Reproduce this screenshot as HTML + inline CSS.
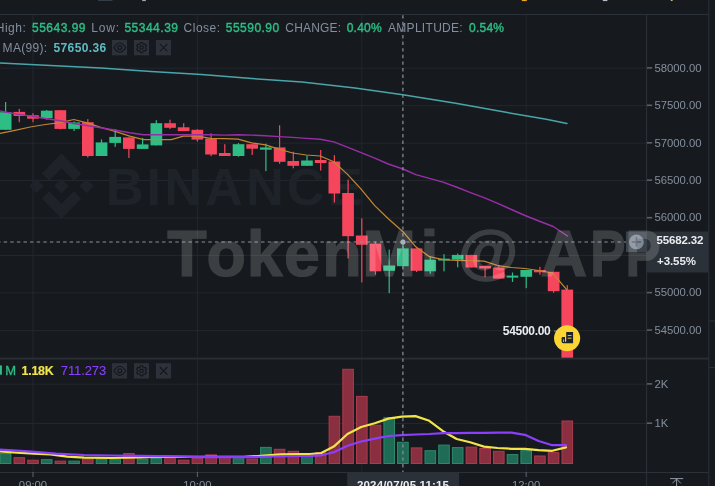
<!DOCTYPE html><html><head><meta charset="utf-8"><title>chart</title><style>html,body{margin:0;padding:0;background:#161a1e;overflow:hidden}svg{display:block}text{font-family:"Liberation Sans",sans-serif}</style></head><body>
<svg width="715" height="486" viewBox="0 0 715 486">
<rect width="715" height="486" fill="#161a1e"/>
<rect x="98" y="0" width="14.5" height="0.9" fill="#3a4049"/><rect x="142.2" y="0" width="3.6" height="1.1" fill="#a4aab4"/><rect x="521.8" y="0" width="5" height="1.1" fill="#eda61f"/><rect x="602.8" y="0" width="4.6" height="1.1" fill="#b4bac4"/><rect x="670.8" y="0" width="1.8" height="1" fill="#d8c070"/>
<rect x="0" y="67.7" width="647" height="1" fill="#22272e"/>
<rect x="0" y="105.1" width="647" height="1" fill="#22272e"/>
<rect x="0" y="142.6" width="647" height="1" fill="#22272e"/>
<rect x="0" y="180.0" width="647" height="1" fill="#22272e"/>
<rect x="0" y="217.5" width="647" height="1" fill="#22272e"/>
<rect x="0" y="255.0" width="647" height="1" fill="#22272e"/>
<rect x="0" y="292.4" width="647" height="1" fill="#22272e"/>
<rect x="0" y="330.1" width="647" height="1" fill="#22272e"/>
<rect x="0" y="383.7" width="647" height="1" fill="#22272e"/>
<rect x="0" y="423.0" width="647" height="1" fill="#22272e"/>
<rect x="32.5" y="14" width="1" height="458" fill="#22272e"/>
<rect x="196.9" y="14" width="1" height="458" fill="#22272e"/>
<rect x="361.3" y="14" width="1" height="458" fill="#22272e"/>
<rect x="525.7" y="14" width="1" height="458" fill="#22272e"/>
<g fill="#1e2329" transform="translate(61.5,186) scale(0.5156)"><path d="M-24.3,-10.3 L0,-34.6 L24.3,-10.3 L38.4,-24.4 L0,-62.8 L-38.4,-24.4 Z"/><path d="M-62.8,0 L-48.7,-14.1 L-34.6,0 L-48.7,14.1 Z"/><path d="M-24.3,10.3 L0,34.6 L24.3,10.3 L38.4,24.4 L0,62.8 L-38.4,24.4 Z"/><path d="M34.6,0 L48.7,-14.1 L62.8,0 L48.7,14.1 Z"/><path d="M14.3,0 L0,-14.3 L-10.6,-3.7 L-11.8,-2.5 L-14.3,0 L0,14.3 Z"/></g>
<text x="105.7" y="204.9" font-size="52.5" font-weight="bold" fill="#1e2329" textLength="257" lengthAdjust="spacing">BINANCE</text>
<rect x="0.3" y="453.5" width="10.6" height="10.0" fill="#1f6b56" stroke="#2a8a69" stroke-width="1"/>
<rect x="14.0" y="457.7" width="10.6" height="5.8" fill="#8a2f40" stroke="#ac3b4e" stroke-width="1"/>
<rect x="27.7" y="460.2" width="10.6" height="3.3" fill="#8a2f40" stroke="#ac3b4e" stroke-width="1"/>
<rect x="41.4" y="459.7" width="10.6" height="3.8" fill="#1f6b56" stroke="#2a8a69" stroke-width="1"/>
<rect x="55.1" y="461.1" width="10.6" height="2.4" fill="#8a2f40" stroke="#ac3b4e" stroke-width="1"/>
<rect x="68.8" y="461.1" width="10.6" height="2.4" fill="#1f6b56" stroke="#2a8a69" stroke-width="1"/>
<rect x="82.5" y="459.1" width="10.6" height="4.4" fill="#8a2f40" stroke="#ac3b4e" stroke-width="1"/>
<rect x="96.2" y="459.1" width="10.6" height="4.4" fill="#1f6b56" stroke="#2a8a69" stroke-width="1"/>
<rect x="109.9" y="459.7" width="10.6" height="3.8" fill="#1f6b56" stroke="#2a8a69" stroke-width="1"/>
<rect x="123.6" y="453.5" width="10.6" height="10.0" fill="#8a2f40" stroke="#ac3b4e" stroke-width="1"/>
<rect x="137.3" y="459.1" width="10.6" height="4.4" fill="#1f6b56" stroke="#2a8a69" stroke-width="1"/>
<rect x="151.0" y="458.5" width="10.6" height="5.0" fill="#1f6b56" stroke="#2a8a69" stroke-width="1"/>
<rect x="164.7" y="457.7" width="10.6" height="5.8" fill="#8a2f40" stroke="#ac3b4e" stroke-width="1"/>
<rect x="178.4" y="460.2" width="10.6" height="3.3" fill="#8a2f40" stroke="#ac3b4e" stroke-width="1"/>
<rect x="192.1" y="458.3" width="10.6" height="5.2" fill="#8a2f40" stroke="#ac3b4e" stroke-width="1"/>
<rect x="205.8" y="454.9" width="10.6" height="8.6" fill="#8a2f40" stroke="#ac3b4e" stroke-width="1"/>
<rect x="219.5" y="456.9" width="10.6" height="6.6" fill="#8a2f40" stroke="#ac3b4e" stroke-width="1"/>
<rect x="233.2" y="458.8" width="10.6" height="4.7" fill="#1f6b56" stroke="#2a8a69" stroke-width="1"/>
<rect x="246.9" y="459.1" width="10.6" height="4.4" fill="#8a2f40" stroke="#ac3b4e" stroke-width="1"/>
<rect x="260.6" y="447.4" width="10.6" height="16.1" fill="#1f6b56" stroke="#2a8a69" stroke-width="1"/>
<rect x="274.3" y="449.3" width="10.6" height="14.2" fill="#8a2f40" stroke="#ac3b4e" stroke-width="1"/>
<rect x="288.0" y="451.3" width="10.6" height="12.2" fill="#8a2f40" stroke="#ac3b4e" stroke-width="1"/>
<rect x="301.7" y="456.3" width="10.6" height="7.2" fill="#1f6b56" stroke="#2a8a69" stroke-width="1"/>
<rect x="315.4" y="452.7" width="10.6" height="10.8" fill="#8a2f40" stroke="#ac3b4e" stroke-width="1"/>
<rect x="329.1" y="416.3" width="10.6" height="47.2" fill="#8a2f40" stroke="#ac3b4e" stroke-width="1"/>
<rect x="342.8" y="369.3" width="10.6" height="94.2" fill="#8a2f40" stroke="#ac3b4e" stroke-width="1"/>
<rect x="356.5" y="396.4" width="10.6" height="67.1" fill="#8a2f40" stroke="#ac3b4e" stroke-width="1"/>
<rect x="370.2" y="425.2" width="10.6" height="38.3" fill="#8a2f40" stroke="#ac3b4e" stroke-width="1"/>
<rect x="383.9" y="417.7" width="10.6" height="45.8" fill="#1f6b56" stroke="#2a8a69" stroke-width="1"/>
<rect x="397.6" y="442.3" width="10.6" height="21.2" fill="#1f6b56" stroke="#2a8a69" stroke-width="1"/>
<rect x="411.3" y="447.9" width="10.6" height="15.6" fill="#8a2f40" stroke="#ac3b4e" stroke-width="1"/>
<rect x="425.0" y="450.7" width="10.6" height="12.8" fill="#1f6b56" stroke="#2a8a69" stroke-width="1"/>
<rect x="438.7" y="445.1" width="10.6" height="18.4" fill="#1f6b56" stroke="#2a8a69" stroke-width="1"/>
<rect x="452.4" y="447.6" width="10.6" height="15.9" fill="#1f6b56" stroke="#2a8a69" stroke-width="1"/>
<rect x="466.1" y="447.1" width="10.6" height="16.4" fill="#8a2f40" stroke="#ac3b4e" stroke-width="1"/>
<rect x="479.8" y="448.5" width="10.6" height="15.0" fill="#8a2f40" stroke="#ac3b4e" stroke-width="1"/>
<rect x="493.5" y="451.3" width="10.6" height="12.2" fill="#8a2f40" stroke="#ac3b4e" stroke-width="1"/>
<rect x="507.2" y="454.6" width="10.6" height="8.9" fill="#1f6b56" stroke="#2a8a69" stroke-width="1"/>
<rect x="520.9" y="450.7" width="10.6" height="12.8" fill="#1f6b56" stroke="#2a8a69" stroke-width="1"/>
<rect x="534.6" y="456.0" width="10.6" height="7.5" fill="#8a2f40" stroke="#ac3b4e" stroke-width="1"/>
<rect x="548.3" y="452.7" width="10.6" height="10.8" fill="#8a2f40" stroke="#ac3b4e" stroke-width="1"/>
<rect x="562.0" y="421.0" width="10.6" height="42.5" fill="#8a2f40" stroke="#ac3b4e" stroke-width="1"/>
<polyline points="-3.0,451.0 0.0,451.3 16.8,452.7 33.6,453.6 50.4,454.4 67.2,456.7 84.0,457.6 112.0,458.0 140.0,457.3 160.0,456.6 176.8,456.9 197.8,456.9 244.0,456.9 260.8,455.8 280.4,454.3 300.0,454.1 310.0,454.2 321.2,453.0 333.8,446.6 347.5,434.0 361.2,427.0 374.7,423.3 388.4,418.6 401.8,416.6 415.5,416.1 429.3,420.8 443.0,431.2 456.7,439.0 470.1,442.2 484.0,446.6 497.7,448.0 511.4,448.8 524.9,448.8 538.6,450.2 552.3,450.8 566.0,447.4" fill="none" stroke="#f2e54a" stroke-width="2.2" stroke-linejoin="round" stroke-linecap="round" />
<polyline points="-3.0,449.5 0.0,449.7 28.0,451.3 56.0,453.6 84.0,455.0 112.0,455.5 140.0,455.8 179.0,456.4 197.8,457.2 252.0,457.2 272.0,456.5 300.0,456.0 310.0,455.8 321.0,455.3 333.8,452.2 347.5,445.7 361.2,441.5 374.7,438.7 388.4,436.0 401.8,435.1 415.5,434.5 429.3,434.0 443.0,433.1 456.7,433.1 470.1,432.9 484.0,432.9 497.7,432.6 511.4,432.6 524.9,434.8 538.6,441.0 552.3,445.2 566.0,445.2" fill="none" stroke="#8a3ffc" stroke-width="2.2" stroke-linejoin="round" stroke-linecap="round" />
<rect x="5.0" y="102.0" width="1.2" height="27.8" fill="#2ebd85"/>
<rect x="-0.2" y="112.2" width="11.7" height="17.6" fill="#2ebd85"/>
<rect x="18.7" y="108.9" width="1.2" height="13.3" fill="#f6465d"/>
<rect x="13.5" y="111.9" width="11.7" height="4.1" fill="#f6465d"/>
<rect x="32.4" y="113.2" width="1.2" height="9.0" fill="#f6465d"/>
<rect x="27.1" y="115.2" width="11.7" height="3.5" fill="#f6465d"/>
<rect x="46.1" y="110.0" width="1.2" height="9.7" fill="#2ebd85"/>
<rect x="40.9" y="110.7" width="11.7" height="7.5" fill="#2ebd85"/>
<rect x="59.8" y="110.2" width="1.2" height="19.1" fill="#f6465d"/>
<rect x="54.5" y="110.2" width="11.7" height="18.7" fill="#f6465d"/>
<rect x="73.5" y="121.5" width="1.2" height="9.5" fill="#2ebd85"/>
<rect x="68.2" y="122.5" width="11.7" height="6.4" fill="#2ebd85"/>
<rect x="87.2" y="119.1" width="1.2" height="38.4" fill="#f6465d"/>
<rect x="82.0" y="122.2" width="11.7" height="33.8" fill="#f6465d"/>
<rect x="100.9" y="139.4" width="1.2" height="16.6" fill="#2ebd85"/>
<rect x="95.7" y="142.4" width="11.7" height="13.6" fill="#2ebd85"/>
<rect x="114.6" y="129.0" width="1.2" height="17.9" fill="#2ebd85"/>
<rect x="109.3" y="136.9" width="11.7" height="6.0" fill="#2ebd85"/>
<rect x="128.3" y="137.4" width="1.2" height="20.6" fill="#f6465d"/>
<rect x="123.0" y="137.4" width="11.7" height="11.5" fill="#f6465d"/>
<rect x="142.0" y="137.9" width="1.2" height="11.0" fill="#2ebd85"/>
<rect x="136.8" y="144.4" width="11.7" height="4.5" fill="#2ebd85"/>
<rect x="155.7" y="120.2" width="1.2" height="25.2" fill="#2ebd85"/>
<rect x="150.5" y="123.2" width="11.7" height="22.2" fill="#2ebd85"/>
<rect x="169.4" y="119.7" width="1.2" height="9.3" fill="#f6465d"/>
<rect x="164.2" y="123.2" width="11.7" height="4.6" fill="#f6465d"/>
<rect x="183.1" y="123.2" width="1.2" height="7.9" fill="#f6465d"/>
<rect x="177.8" y="127.3" width="11.7" height="3.8" fill="#f6465d"/>
<rect x="196.8" y="129.3" width="1.2" height="12.3" fill="#f6465d"/>
<rect x="191.5" y="129.8" width="11.7" height="9.8" fill="#f6465d"/>
<rect x="210.5" y="133.3" width="1.2" height="22.9" fill="#f6465d"/>
<rect x="205.2" y="138.6" width="11.7" height="15.9" fill="#f6465d"/>
<rect x="224.2" y="144.2" width="1.2" height="11.8" fill="#f6465d"/>
<rect x="218.9" y="153.0" width="11.7" height="3.0" fill="#f6465d"/>
<rect x="237.9" y="143.0" width="1.2" height="13.7" fill="#2ebd85"/>
<rect x="232.7" y="144.2" width="11.7" height="11.8" fill="#2ebd85"/>
<rect x="251.6" y="144.2" width="1.2" height="10.8" fill="#f6465d"/>
<rect x="246.3" y="144.2" width="11.7" height="4.5" fill="#f6465d"/>
<rect x="265.3" y="143.7" width="1.2" height="27.4" fill="#2ebd85"/>
<rect x="260.0" y="147.4" width="11.7" height="2.3" fill="#2ebd85"/>
<rect x="279.0" y="125.3" width="1.2" height="38.5" fill="#f6465d"/>
<rect x="273.8" y="147.4" width="11.7" height="14.4" fill="#f6465d"/>
<rect x="292.7" y="151.7" width="1.2" height="16.6" fill="#f6465d"/>
<rect x="287.4" y="161.0" width="11.7" height="4.8" fill="#f6465d"/>
<rect x="306.4" y="155.5" width="1.2" height="10.3" fill="#2ebd85"/>
<rect x="301.1" y="160.5" width="11.7" height="5.3" fill="#2ebd85"/>
<rect x="320.1" y="150.0" width="1.2" height="20.6" fill="#f6465d"/>
<rect x="314.8" y="160.0" width="11.7" height="3.0" fill="#f6465d"/>
<rect x="333.8" y="155.2" width="1.2" height="47.3" fill="#f6465d"/>
<rect x="328.5" y="161.5" width="11.7" height="32.0" fill="#f6465d"/>
<rect x="347.5" y="179.6" width="1.2" height="78.8" fill="#f6465d"/>
<rect x="342.2" y="193.0" width="11.7" height="43.2" fill="#f6465d"/>
<rect x="361.2" y="218.3" width="1.2" height="64.1" fill="#f6465d"/>
<rect x="355.9" y="235.5" width="11.7" height="9.3" fill="#f6465d"/>
<rect x="374.9" y="241.6" width="1.2" height="33.2" fill="#f6465d"/>
<rect x="369.6" y="243.6" width="11.7" height="27.7" fill="#f6465d"/>
<rect x="388.6" y="249.6" width="1.2" height="43.6" fill="#2ebd85"/>
<rect x="383.3" y="265.5" width="11.7" height="5.3" fill="#2ebd85"/>
<rect x="402.3" y="243.3" width="1.2" height="22.9" fill="#2ebd85"/>
<rect x="397.0" y="248.4" width="11.7" height="17.8" fill="#2ebd85"/>
<rect x="416.0" y="248.4" width="1.2" height="23.6" fill="#f6465d"/>
<rect x="410.7" y="248.4" width="11.7" height="22.4" fill="#f6465d"/>
<rect x="429.7" y="256.7" width="1.2" height="17.1" fill="#2ebd85"/>
<rect x="424.4" y="259.7" width="11.7" height="11.6" fill="#2ebd85"/>
<rect x="443.4" y="254.2" width="1.2" height="17.1" fill="#2ebd85"/>
<rect x="438.1" y="258.7" width="11.7" height="1.8" fill="#2ebd85"/>
<rect x="457.1" y="253.6" width="1.2" height="13.7" fill="#2ebd85"/>
<rect x="451.8" y="254.9" width="11.7" height="4.8" fill="#2ebd85"/>
<rect x="470.8" y="254.9" width="1.2" height="12.6" fill="#f6465d"/>
<rect x="465.5" y="254.9" width="11.7" height="12.6" fill="#f6465d"/>
<rect x="484.5" y="266.0" width="1.2" height="11.3" fill="#f6465d"/>
<rect x="479.2" y="266.0" width="11.7" height="2.5" fill="#f6465d"/>
<rect x="498.2" y="265.5" width="1.2" height="13.1" fill="#f6465d"/>
<rect x="492.9" y="267.5" width="11.7" height="11.1" fill="#f6465d"/>
<rect x="511.9" y="272.5" width="1.2" height="9.4" fill="#2ebd85"/>
<rect x="506.6" y="275.6" width="11.7" height="2.0" fill="#2ebd85"/>
<rect x="525.6" y="270.0" width="1.2" height="18.2" fill="#2ebd85"/>
<rect x="520.4" y="270.0" width="11.7" height="6.8" fill="#2ebd85"/>
<rect x="539.3" y="266.8" width="1.2" height="8.0" fill="#f6465d"/>
<rect x="534.0" y="270.0" width="11.7" height="2.3" fill="#f6465d"/>
<rect x="553.0" y="271.8" width="1.2" height="20.9" fill="#f6465d"/>
<rect x="547.8" y="271.8" width="11.7" height="19.4" fill="#f6465d"/>
<rect x="566.7" y="285.1" width="1.2" height="72.9" fill="#f6465d"/>
<rect x="561.4" y="289.6" width="11.7" height="68.4" fill="#f6465d"/>
<polyline points="0.0,62.9 50.4,65.5 100.7,68.0 151.0,71.5 201.4,74.5 251.8,78.5 302.0,82.0 355.0,88.1 402.8,94.7 455.7,103.2 506.0,112.3 546.3,119.3 567.0,123.4" fill="none" stroke="#4aa5ab" stroke-width="1.5" stroke-linejoin="round" stroke-linecap="round" />
<polyline points="0.0,133.3 15.0,130.3 30.2,127.0 45.3,124.5 60.4,122.7 73.8,119.5 88.0,123.2 100.8,127.3 115.9,131.6 129.7,136.1 143.6,139.6 157.4,139.6 171.3,139.6 183.4,136.1 197.0,136.1 210.6,138.4 224.2,138.6 238.0,139.1 251.7,142.9 265.3,144.9 279.0,149.2 292.7,153.0 306.3,155.0 320.2,156.0 333.8,161.8 347.3,174.1 361.1,189.2 374.7,205.6 388.3,218.8 403.0,231.7 415.8,246.8 429.4,256.7 443.0,259.7 456.9,260.5 470.5,260.7 484.0,261.2 497.8,265.5 511.4,267.5 525.0,268.5 538.8,270.5 552.4,273.0 566.5,289.4" fill="none" stroke="#c4862f" stroke-width="1.25" stroke-linejoin="round" stroke-linecap="round" />
<polyline points="0.0,110.9 15.0,113.9 30.2,115.9 45.3,118.5 60.4,120.7 73.8,123.5 88.0,125.8 100.8,127.8 115.9,130.3 129.7,132.8 143.6,134.8 157.4,134.8 171.3,134.6 183.4,134.8 197.0,134.8 210.6,134.8 224.2,135.1 238.0,134.8 251.7,135.1 265.3,135.8 279.0,136.6 292.7,137.4 306.3,138.4 320.2,139.3 333.8,141.9 347.3,147.1 361.1,152.7 374.7,158.2 388.3,164.0 403.0,169.0 415.8,174.6 429.4,178.4 443.0,182.1 456.9,187.3 470.5,192.6 484.0,197.6 497.7,203.3 511.4,209.5 525.0,215.5 538.8,221.0 553.2,226.5 567.5,236.0" fill="none" stroke="#982ea8" stroke-width="1.45" stroke-linejoin="round" stroke-linecap="round" />
<rect x="0" y="14" width="709" height="1" fill="#2b3139"/>
<rect x="0" y="357.6" width="709" height="1.9" fill="#292e35"/>
<rect x="0" y="472" width="709" height="1" fill="#2b3139"/>
<rect x="646.1" y="14" width="1" height="472" fill="#2b3139"/>
<rect x="708.3" y="0" width="1" height="486" fill="#2b3139"/>
<rect x="709" y="320.5" width="6" height="1" fill="#2b3139"/><rect x="709" y="367.1" width="6" height="1" fill="#2b3139"/>
<line x1="-2.9" y1="242" x2="626" y2="242" stroke="#8a929e" stroke-width="1.2" stroke-dasharray="3.4,3.2"/>
<line x1="402.9" y1="15.2" x2="402.9" y2="472" stroke="#8a929e" stroke-width="1.2" stroke-dasharray="3.4,3.2"/>
<circle cx="403" cy="242" r="2.6" fill="#9aa2ad"/>
<rect x="647" y="67.1" width="5.2" height="1.6" fill="#59606b"/>
<text x="654.5" y="71.6" font-size="11.3" fill="#848e9c" textLength="47" lengthAdjust="spacing">58000.00</text>
<rect x="647" y="104.5" width="5.2" height="1.6" fill="#59606b"/>
<text x="654.5" y="109.0" font-size="11.3" fill="#848e9c" textLength="47" lengthAdjust="spacing">57500.00</text>
<rect x="647" y="142.0" width="5.2" height="1.6" fill="#59606b"/>
<text x="654.5" y="146.5" font-size="11.3" fill="#848e9c" textLength="47" lengthAdjust="spacing">57000.00</text>
<rect x="647" y="179.4" width="5.2" height="1.6" fill="#59606b"/>
<text x="654.5" y="183.9" font-size="11.3" fill="#848e9c" textLength="47" lengthAdjust="spacing">56500.00</text>
<rect x="647" y="216.9" width="5.2" height="1.6" fill="#59606b"/>
<text x="654.5" y="221.4" font-size="11.3" fill="#848e9c" textLength="47" lengthAdjust="spacing">56000.00</text>
<rect x="647" y="291.8" width="5.2" height="1.6" fill="#59606b"/>
<text x="654.5" y="296.3" font-size="11.3" fill="#848e9c" textLength="47" lengthAdjust="spacing">55000.00</text>
<rect x="647" y="329.3" width="5.2" height="1.6" fill="#59606b"/>
<text x="654.5" y="333.8" font-size="11.3" fill="#848e9c" textLength="47" lengthAdjust="spacing">54500.00</text>
<rect x="647" y="383.1" width="5.2" height="1.6" fill="#59606b"/>
<text x="654.5" y="387.6" font-size="11.3" fill="#848e9c">2K</text>
<rect x="647" y="422.4" width="5.2" height="1.6" fill="#59606b"/>
<text x="654.5" y="426.9" font-size="11.3" fill="#848e9c">1K</text>
<rect x="32.5" y="472" width="1" height="5" fill="#5e6673"/>
<text x="33.0" y="489" font-size="11.3" fill="#848e9c" text-anchor="middle">09:00</text>
<rect x="196.9" y="472" width="1" height="5" fill="#5e6673"/>
<text x="197.4" y="489" font-size="11.3" fill="#848e9c" text-anchor="middle">10:00</text>
<rect x="525.7" y="472" width="1" height="5" fill="#5e6673"/>
<text x="526.2" y="489" font-size="11.3" fill="#848e9c" text-anchor="middle">12:00</text>
<rect x="347.2" y="472.4" width="112" height="14" fill="#2b3139"/>
<text x="403" y="489" font-size="11.5" font-weight="bold" fill="#eaecef" text-anchor="middle" textLength="92" lengthAdjust="spacing">2024/07/05 11:15</text>
<rect x="647" y="231.5" width="61.3" height="41" fill="#2b3139"/>
<text x="656.5" y="244.3" font-size="11.5" font-weight="bold" fill="#eaecef" textLength="47" lengthAdjust="spacing">55682.32</text>
<text x="657" y="264.5" font-size="11.5" font-weight="bold" fill="#eaecef" textLength="39" lengthAdjust="spacing">+3.55%</text>
<rect x="626" y="231.5" width="21" height="20.5" fill="#3b424c"/>
<circle cx="636.4" cy="241.9" r="7.4" fill="#7f8998"/><path d="M631.7,241.9h9.4M636.4,237.2v9.4" stroke="#535b67" stroke-width="1.5" fill="none"/>
<path d="M670,478.6h13.2M676.6,487v-8M672.3,483.4l4.3,-4.4l4.3,4.4" stroke="#9299a5" stroke-width="1" fill="none"/>
<text x="-4.3" y="31.5" font-size="12" fill="#848e9c" textLength="30.2" lengthAdjust="spacing">High:</text>
<text x="32" y="31.5" font-size="12" stroke="#2ebd85" stroke-width="0.4" fill="#2ebd85" textLength="53.5" lengthAdjust="spacing">55643.99</text>
<text x="91.3" y="31.5" font-size="12" fill="#848e9c" textLength="27.7" lengthAdjust="spacing">Low:</text>
<text x="124.4" y="31.5" font-size="12" stroke="#2ebd85" stroke-width="0.4" fill="#2ebd85" textLength="53.6" lengthAdjust="spacing">55344.39</text>
<text x="183.6" y="31.5" font-size="12" fill="#848e9c" textLength="36.4" lengthAdjust="spacing">Close:</text>
<text x="225.8" y="31.5" font-size="12" stroke="#2ebd85" stroke-width="0.4" fill="#2ebd85" textLength="53.4" lengthAdjust="spacing">55590.90</text>
<text x="285.3" y="31.5" font-size="12" fill="#848e9c" textLength="55.7" lengthAdjust="spacing">CHANGE:</text>
<text x="346.7" y="31.5" font-size="12" stroke="#2ebd85" stroke-width="0.4" fill="#2ebd85" textLength="35" lengthAdjust="spacing">0.40%</text>
<text x="388" y="31.5" font-size="12" fill="#848e9c" textLength="74.7" lengthAdjust="spacing">AMPLITUDE:</text>
<text x="469" y="31.5" font-size="12" stroke="#2ebd85" stroke-width="0.4" fill="#2ebd85" textLength="35" lengthAdjust="spacing">0.54%</text>
<text x="2.6" y="52" font-size="12" fill="#848e9c" textLength="44.5" lengthAdjust="spacing">MA(99):</text>
<text x="53.5" y="52" font-size="12" font-weight="bold" fill="#60bbc2" textLength="52.7" lengthAdjust="spacing">57650.36</text>
<rect x="0" y="365.4" width="1.9" height="9.3" fill="#2ebd85"/>
<text x="5.3" y="374.8" font-size="13" stroke="#2ebd85" stroke-width="0.3" fill="#2ebd85" textLength="9.6" lengthAdjust="spacing">M</text>
<text x="21.6" y="374.8" font-size="12.4" font-weight="bold" stroke="#f2e54a" stroke-width="0.15" fill="#f2e54a" textLength="32" lengthAdjust="spacing">1.18K</text>
<text x="60.8" y="374.8" font-size="13" stroke="#8a3ffc" stroke-width="0.1" fill="#8a3ffc" textLength="45.4" lengthAdjust="spacing">711.273</text>
<rect x="112" y="40" width="15" height="15.3" fill="#2d323a"/>
<rect x="134" y="40" width="15" height="15.3" fill="#2d323a"/>
<rect x="156" y="40" width="15" height="15.3" fill="#2d323a"/>
<path d="M113.89999999999999,47.6 Q116.89999999999999,43.0 119.8,43.0 Q122.7,43.0 125.7,47.6 Q122.7,52.2 119.8,52.2 Q116.89999999999999,52.2 113.89999999999999,47.6Z" fill="none" stroke="#14171b" stroke-width="1.15" stroke-linejoin="round"/><circle cx="119.8" cy="47.6" r="2" fill="none" stroke="#14171b" stroke-width="1.15"/>
<path d="M140.30,43.82 L140.57,42.50 L142.63,42.50 L142.90,43.82 L144.23,44.59 L145.50,44.16 L146.53,45.95 L145.53,46.83 L145.53,48.37 L146.53,49.25 L145.50,51.04 L144.23,50.61 L142.90,51.38 L142.63,52.70 L140.57,52.70 L140.30,51.38 L138.97,50.61 L137.70,51.04 L136.67,49.25 L137.67,48.37 L137.67,46.83 L136.67,45.95 L137.70,44.16 L138.97,44.59Z" fill="none" stroke="#14171b" stroke-width="1.15" stroke-linejoin="round"/><circle cx="141.6" cy="47.6" r="1.7" fill="none" stroke="#14171b" stroke-width="1.15"/>
<path d="M159.79999999999998,43.800000000000004L167.4,51.4M167.4,43.800000000000004L159.79999999999998,51.4" stroke="#14171b" stroke-width="1.15" fill="none"/>
<rect x="112" y="363.2" width="15" height="15.3" fill="#2d323a"/>
<rect x="134" y="363.2" width="15" height="15.3" fill="#2d323a"/>
<rect x="156" y="363.2" width="15" height="15.3" fill="#2d323a"/>
<path d="M113.89999999999999,370.8 Q116.89999999999999,366.2 119.8,366.2 Q122.7,366.2 125.7,370.8 Q122.7,375.40000000000003 119.8,375.40000000000003 Q116.89999999999999,375.40000000000003 113.89999999999999,370.8Z" fill="none" stroke="#14171b" stroke-width="1.15" stroke-linejoin="round"/><circle cx="119.8" cy="370.8" r="2" fill="none" stroke="#14171b" stroke-width="1.15"/>
<path d="M140.30,367.02 L140.57,365.70 L142.63,365.70 L142.90,367.02 L144.23,367.79 L145.50,367.36 L146.53,369.15 L145.53,370.03 L145.53,371.57 L146.53,372.45 L145.50,374.24 L144.23,373.81 L142.90,374.58 L142.63,375.90 L140.57,375.90 L140.30,374.58 L138.97,373.81 L137.70,374.24 L136.67,372.45 L137.67,371.57 L137.67,370.03 L136.67,369.15 L137.70,367.36 L138.97,367.79Z" fill="none" stroke="#14171b" stroke-width="1.15" stroke-linejoin="round"/><circle cx="141.6" cy="370.8" r="1.7" fill="none" stroke="#14171b" stroke-width="1.15"/>
<path d="M159.79999999999998,367.0L167.4,374.6M167.4,367.0L159.79999999999998,374.6" stroke="#14171b" stroke-width="1.15" fill="none"/>
<text x="502.8" y="335.3" font-size="12" font-weight="bold" fill="#eaecef" textLength="48" lengthAdjust="spacing">54500.00</text>
<rect x="554" y="330.6" width="2.6" height="1" fill="#848e9c"/>
<circle cx="567.1" cy="338.2" r="13.05" fill="#fcd535"/>
<path d="M566.2,332.1H573.1V343.3H563.3a1.7,1.7 0 0 1 -1.7,-1.7V338.2a1.1,1.1 0 0 1 1.1,-1.1H565V341.8H566.2Z" fill="#1e2329"/><rect x="563.2" y="339.4" width="0.9" height="2.5" fill="#fcd535"/><rect x="567.7" y="335" width="3.8" height="0.85" fill="#fcd535"/><rect x="567.7" y="337.75" width="3.8" height="0.85" fill="#fcd535"/>
<g fill="#ffffff" stroke="#ffffff" stroke-width="1.2" opacity="0.16" font-weight="bold" font-size="64.5">
<text x="167.2 206.4 246.8 284 322.2 362.2 420.6" y="275.8">TokenMi</text>
<text x="458.1" y="271.6" font-size="59.5" textLength="60.2" lengthAdjust="spacingAndGlyphs">@</text>
<text y="275.8"><tspan x="540.5">A</tspan><tspan x="590.2" textLength="70.5" lengthAdjust="spacingAndGlyphs">PP</tspan></text>
</g>
</svg></body></html>
